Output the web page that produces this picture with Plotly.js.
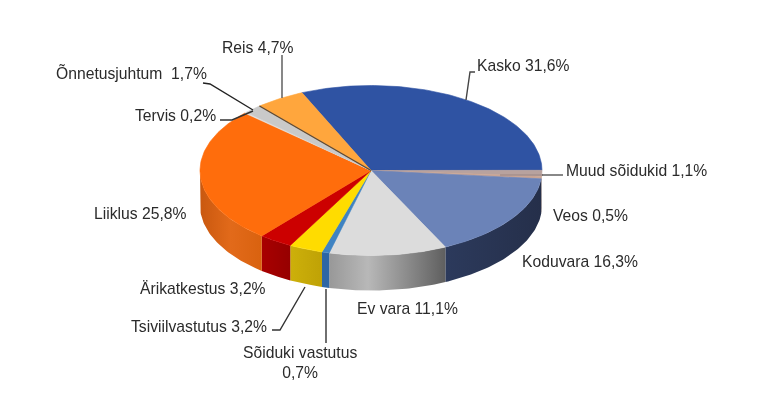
<!DOCTYPE html>
<html><head><meta charset="utf-8">
<script src="https://cdn.plot.ly/plotly-3.0.1.min.js"></script>
<style>html,body{margin:0;padding:0;background:#fff}#c{width:768px;height:404px;filter:blur(0.4px)}</style>
</head><body><div id="c"></div>
<script>
// Data
const categories = ["Kasko","Muud sõidukid","Veos","Koduvara","Ev vara","Sõiduki vastutus","Tsiviilvastutus","Ärikatkestus","Liiklus","Tervis","Õnnetusjuhtum","Reis"];
const shares = [31.6,1.1,0.5,16.3,11.1,0.7,3.2,3.2,25.8,0.2,1.7,4.7];
const labelTexts = ["Kasko 31,6%","Muud sõidukid 1,1%","Veos 0,5%","Koduvara 16,3%","Ev vara 11,1%","Sõiduki vastutus<br>0,7%","Tsiviilvastutus 3,2%","Ärikatkestus 3,2%","Liiklus 25,8%","Tervis 0,2%","Õnnetusjuhtum  1,7%","Reis 4,7%"];

// Styles
const topColors = ["#2f53a3","#b8a29e","#c9a594","#6b83b8","#dcdcdc","#3f83c2","#ffdc00","#cc0000","#ff6d0c","#e4e4e4","#c9c9c9","#ffa63d"];
const sideStops = [
  ["#24325a","#24325a"],["#8f7f7c","#8f7f7c"],["#8f7f7c","#8f7f7c"],
  ["#2c3a5c","#252f4a"],["#989898","#b8b8b8","#8c8c8c","#5f5f5f"],
  ["#2d66a5","#2d66a5"],["#cdb00a","#bfa206"],["#a80000","#960000"],
  ["#c9580f","#e26a1a","#d9620f"],["#999","#999"],["#999","#999"],["#c97f20","#c97f20"]];
const labelPos = [[475,65,"left"],[564,170,"left"],[551,215,"left"],[520,261,"left"],[355,308,"left"],[300,362,"center"],[129,326,"left"],[138,288,"left"],[92,213,"left"],[133,115,"left"],[54,72,"left"],[220,47,"left"]];
const leaders = [
  "M475,72 L470,72 L466,100","M282,55 L282,98","M203,83 L210,84 L253,110",
  "M220,120 L232,120 L253,111","M500,175 L543,175","M542,175 L563,175","M272,330 L280,330 L305,287","M326,289 L326,343"];
const leaderColors = ["#444","#555","#222","#333","#a58f8c","#555","#333","#333"];

// Geometry
const cx=371, cy=170.5, rx=171, ry=85, depth=35, startDeg=113.8, step=1;
const total = shares.reduce((a,b)=>a+b,0);
const rad = d=>d*Math.PI/180;
const px = d=>cx+rx*Math.cos(rad(d));
const py = d=>cy-ry*Math.sin(rad(d));
function arc(a,b){ // a > b, clockwise
  const out=[]; const n=Math.max(1,Math.ceil((a-b)/step));
  for(let i=0;i<=n;i++) out.push(a+(b-a)*i/n);
  return out;
}
const sides=[], tops=[], edges=[];
let ang=startDeg;
shares.forEach((v,i)=>{
  const a=ang, b=ang-v/total*360; ang=b;
  // front wall: the part of the slice between 0 and -180 degrees
  const hi=Math.min(a,0), lo=Math.max(b,-180);
  if(hi>lo){
    const ar=arc(hi,lo);
    const xs=ar.map(px).concat(ar.slice().reverse().map(px));
    const ys=ar.map(py).concat(ar.slice().reverse().map(d=>py(d)+depth));
    const st=sideStops[i];
    sides.push({type:"scatter",mode:"lines",x:xs,y:ys,fill:"toself",hoverinfo:"skip",
      line:{width:0,color:st[0]},
      fillgradient:{type:"horizontal",colorscale:st.map((c,k)=>[k/(st.length-1),c])},showlegend:false,name:categories[i]});
  }
  const ar=arc(a,b);
  tops.push({type:"scatter",mode:"lines",x:[cx].concat(ar.map(px),[cx]),y:[cy].concat(ar.map(py),[cy]),
    fill:"toself",fillcolor:topColors[i],hoverinfo:"skip",showlegend:false,name:categories[i],
    line:{width:0.6,color:topColors[i]}});
  if(categories[i]==="Õnnetusjuhtum"){
    edges.push({type:"scatter",mode:"lines",x:[cx,px(b)],y:[cy,py(b)],hoverinfo:"skip",showlegend:false,
      line:{width:1.3,color:"#5a4a3a"}});
  }
});
const annotations=labelTexts.map((t,i)=>({x:labelPos[i][0],y:labelPos[i][1],xref:"x",yref:"y",text:t,showarrow:false,
  xanchor:labelPos[i][2],yanchor:"middle",align:"center",font:{family:"Liberation Sans",size:15.7,color:"#2b2b2b"}}));
const shapes=leaders.map((p,i)=>({type:"path",path:p,xref:"x",yref:"y",line:{color:leaderColors[i],width:1.4}}));
Plotly.newPlot("c",sides.concat(tops,edges),{
  width:768,height:404,margin:{l:0,r:0,t:0,b:0},paper_bgcolor:"#fff",plot_bgcolor:"#fff",showlegend:false,
  xaxis:{range:[0,768],visible:false,fixedrange:true},
  yaxis:{range:[404,0],visible:false,fixedrange:true},
  annotations,shapes
},{displayModeBar:false,staticPlot:true});
</script></body></html>
